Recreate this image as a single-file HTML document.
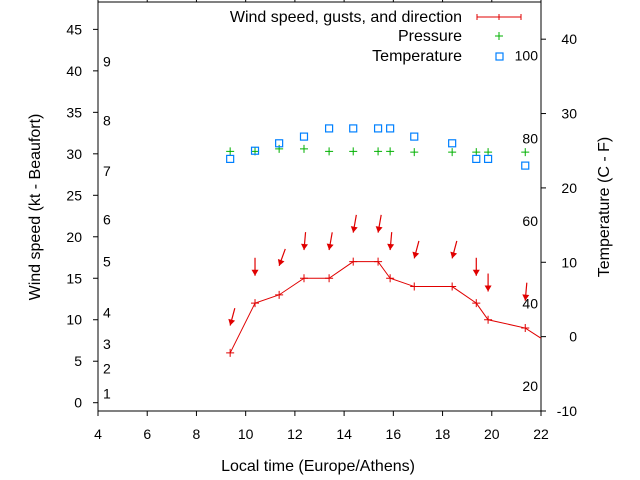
<!DOCTYPE html>
<html><head><meta charset="utf-8"><style>
html,body{margin:0;padding:0;background:#fff;}
svg{display:block;font-family:"Liberation Sans",sans-serif;}
</style></head><body>
<svg id="chart" width="640" height="480" viewBox="0 0 640 480" xmlns="http://www.w3.org/2000/svg"></svg>
<script>
const times=[9.37,10.38,11.36,12.37,13.39,14.37,15.38,15.87,16.85,18.39,19.37,19.85,21.36,22.4];
const windSpeed=[6,12,13,15,15,17,17,15,14,14,12,10,9,7];
const gustTimes=[9.37,10.38,11.36,12.37,13.39,14.37,15.38,15.87,16.85,18.39,19.37,19.85,21.36];
const gustSpeed=[9.3,15.3,16.5,18.4,18.4,20.5,20.5,18.4,17.4,17.4,15.3,13.4,12.3];
const gustDir=[15,0,20,5,10,10,10,5,15,15,0,0,5];
const pressure=[30.3,30.3,30.6,30.6,30.3,30.3,30.3,30.3,30.2,30.2,30.2,30.2,30.2];
const temperature=[23.9,25,26,26.9,28,28,28,28,26.9,26,23.9,23.9,23];
const xTicks=[4,6,8,10,12,14,16,18,20,22];
const yTicks=[0,5,10,15,20,25,30,35,40,45];
const y2Ticks=[-10,0,10,20,30,40];
const beaufortLabels=["1","2","3","4","5","6","7","8","9"];
const beaufortKt=[1.1,4.1,7.1,10.9,17,22.1,27.9,34,41.1];
const fahrLabels=[20,40,60,80,100];

const L=98,R=541,T=2,B=411;
const X=v=>L+(v-4)/18*(R-L);
const Y=v=>B-(v+1)/49.3*(B-T);
const Y2=v=>B-(v+10)/55*(B-T);
const F2C=f=>(f-32)*5/9;
const svg=document.getElementById('chart');
const NS='http://www.w3.org/2000/svg';
function mk(tag,attrs,parent){const e=document.createElementNS(NS,tag);for(const k in attrs)e.setAttribute(k,attrs[k]);(parent||svg).appendChild(e);return e;}
function txt(x,y,s,anchor,size){const t=mk('text',{x:x,y:y,'font-size':size||14,'text-anchor':anchor||'start',fill:'#000'});t.textContent=s;return t;}

const fr=mk('rect',{x:L,y:T,width:R-L,height:B-T,fill:'none',stroke:'#000','stroke-width':1});



const gx=mk('g',{});


xTicks.forEach(v=>{
  mk('line',{x1:X(v),x2:X(v),y1:B,y2:B+5,stroke:'#000'},gx);
  mk('line',{x1:X(v),x2:X(v),y1:T,y2:T-5,stroke:'#000'},gx);
  const t=txt(X(v),439,String(v),'middle');gx.appendChild(t);
  
  
});
const gy=mk('g',{});


yTicks.forEach(v=>{
  mk('line',{x1:L-5,x2:L,y1:Y(v),y2:Y(v),stroke:'#000'},gy);
  const t=txt(82,Y(v)+5,String(v),'end');gy.appendChild(t);
  
  
});
const gy2=mk('g',{});


y2Ticks.forEach(v=>{
  mk('line',{x1:R,x2:R+5,y1:Y2(v),y2:Y2(v),stroke:'#000'},gy2);
  const t=txt(577,Y2(v)+5,String(v),'end');gy2.appendChild(t);
  
  
});
beaufortLabels.forEach((s,i)=>{
  const t=txt(103,Y(beaufortKt[i])+5,s,'start');
  
  
});
fahrLabels.forEach(f=>{
  const t=txt(538,Y2(F2C(f))+5,String(f),'end');
  
  
});

let t=txt(318,471,'Local time (Europe/Athens)','middle',16);


t=txt(0,0,'Wind speed (kt - Beaufort)','middle',16);
t.setAttribute('transform','translate(40,207) rotate(-90)');


t=txt(0,0,'Temperature (C - F)','middle',16);
t.setAttribute('transform','translate(609,207) rotate(-90)');



const clip=mk('clipPath',{id:'pc'});mk('rect',{x:L,y:T,width:R-L,height:B-T},clip);
const gw=mk('g',{'clip-path':'url(#pc)'});


mk('polyline',{points:times.map((v,i)=>X(v)+','+Y(windSpeed[i])).join(' '),fill:'none',stroke:'#e00000','stroke-width':1},gw);
times.forEach((v,i)=>{
  const x=X(v),y=Y(windSpeed[i]);
  mk('path',{d:`M${x-4},${y}H${x+4}M${x},${y-4}V${y+4}`,stroke:'#e00000','stroke-width':1},gw);
});
gustTimes.forEach((v,i)=>{
  const x=X(v),y=Y(gustSpeed[i]);
  const a=gustDir[i]*Math.PI/180,len=18;
  const tx=x+len*Math.sin(a),ty=y-len*Math.cos(a);
  const g=mk('g',{},gw);
  
  
  mk('line',{x1:tx,y1:ty,x2:x,y2:y,stroke:'#e00000','stroke-width':1.2},g);
  const ux=Math.sin(a),uy=-Math.cos(a),px=-uy,py=ux;
  mk('polygon',{points:`${x},${y} ${x+ux*6+px*3.5},${y+uy*6+py*3.5} ${x+ux*6-px*3.5},${y+uy*6-py*3.5}`,fill:'#e00000'},g);
});
const gp=mk('g',{});


gustTimes.forEach((v,i)=>{
  const x=X(v),y=Y(pressure[i]);
  mk('path',{d:`M${x-4},${y}H${x+4}M${x},${y-4}V${y+4}`,stroke:'#00b000','stroke-width':1},gp);
});
const gt=mk('g',{});


gustTimes.forEach((v,i)=>{
  const x=X(v),y=Y2(temperature[i]);
  mk('rect',{x:x-3.5,y:y-3.5,width:7,height:7,fill:'none',stroke:'#0080ff','stroke-width':1.2},gt);
});
const lg=mk('g',{});


[['Wind speed, gusts, and direction',17],['Pressure',36],['Temperature',56]].forEach(([s,y],i)=>{
  const tt=txt(462,y+5,s,'end',16);lg.appendChild(tt);
  
  
});
mk('path',{d:'M477,17H521M477,14V20M499,14V20M521,14V20',stroke:'#e00000','stroke-width':1},lg);
mk('path',{d:'M495,36H503M499,32V40',stroke:'#00b000','stroke-width':1},lg);
mk('rect',{x:496,y:53,width:7,height:7,fill:'none',stroke:'#0080ff','stroke-width':1.2},lg);
</script>
</body></html>
